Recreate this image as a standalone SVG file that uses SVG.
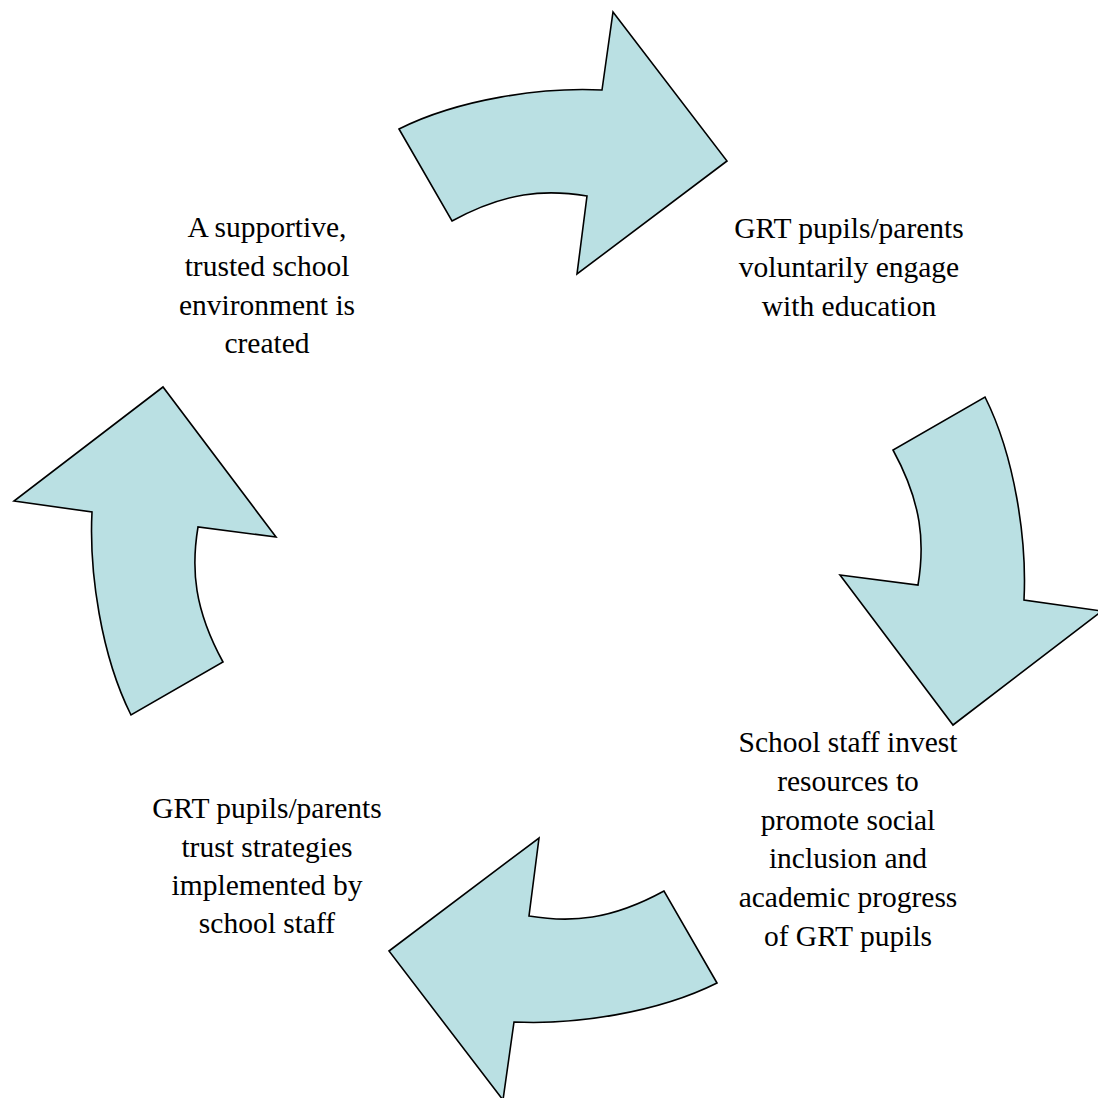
<svg xmlns="http://www.w3.org/2000/svg" width="1098" height="1098" viewBox="0 0 1098 1098">
<defs>
<style>
.arrow{fill:#BAE0E3;stroke:#000;stroke-width:1.6;stroke-linejoin:miter}
.lbl{font-family:"Liberation Serif","Times New Roman",serif;font-size:29.5px;fill:#000;text-anchor:middle}
</style>
<path id="arrowShape" class="arrow" d="M399,129 C459,99 542,87 602,90 L613,12 L727,161 L577,274 L587,196 C545,189 505,192 452,221 Z"/>
</defs>
<rect width="1098" height="1098" fill="#fff"/>
<g id="connectors">
<use id="arrow-top" href="#arrowShape"/>
<use id="arrow-right" href="#arrowShape" transform="rotate(90 558 556)"/>
<use id="arrow-bottom" href="#arrowShape" transform="rotate(180 558 556)"/>
<use id="arrow-left" href="#arrowShape" transform="rotate(270 558 556)"/>
</g>
<g id="node-engage">
<text class="lbl" x="849" y="238">GRT pupils/parents</text>
<text class="lbl" x="849" y="277">voluntarily engage</text>
<text class="lbl" x="849" y="316">with education</text>
</g>
<g id="node-invest">
<text class="lbl" x="848" y="752">School staff invest</text>
<text class="lbl" x="848" y="791">resources to</text>
<text class="lbl" x="848" y="830">promote social</text>
<text class="lbl" x="848" y="868">inclusion and</text>
<text class="lbl" x="848" y="907">academic progress</text>
<text class="lbl" x="848" y="946">of GRT pupils</text>
</g>
<g id="node-trust">
<text class="lbl" x="267" y="818">GRT pupils/parents</text>
<text class="lbl" x="267" y="857">trust strategies</text>
<text class="lbl" x="267" y="895">implemented by</text>
<text class="lbl" x="267" y="933">school staff</text>
</g>
<g id="node-environment">
<text class="lbl" x="267" y="237">A supportive,</text>
<text class="lbl" x="267" y="276">trusted school</text>
<text class="lbl" x="267" y="315">environment is</text>
<text class="lbl" x="267" y="353">created</text>
</g>
</svg>
